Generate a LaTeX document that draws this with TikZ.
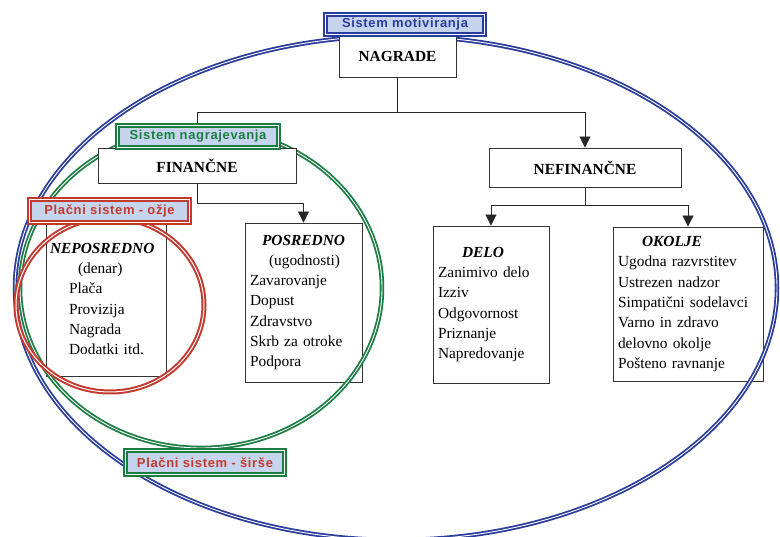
\documentclass[tikz,border=0pt]{standalone}
\usepackage{fontspec}
\setmainfont{Liberation Serif}
\newfontfamily\lblfont[LetterSpace=5]{Liberation Sans}
\usetikzlibrary{arrows.meta}
\definecolor{motblue}{HTML}{2A3C9C}
\definecolor{nagrgreen}{HTML}{1C7D43}
\definecolor{placred}{HTML}{C4392E}
\definecolor{lblfill}{HTML}{C7D4EE}
\definecolor{boxline}{HTML}{333333}

\begin{document}
\begin{tikzpicture}[x=1pt,y=-1pt,>={Triangle[width=11pt,length=11pt]},
  box/.style={draw=boxline,line width=0.9pt,align=left,inner xsep=5pt,inner ysep=0pt,font=\fontsize{15.4}{20.3}\selectfont},
  head/.style={draw=boxline,fill=white,line width=0.9pt,font=\bfseries\fontsize{15.4}{18}\selectfont},
  ring/.style={double=white,line width=1.8pt,double distance=0.9pt},
  lbl/.style={double=white,line width=2.1pt,double distance=0.9pt,fill=lblfill,inner sep=0pt,font=\lblfont\bfseries\fontsize{13}{14}\selectfont},
  conn/.style={draw=black!85,line width=0.9pt}]
  \useasboundingbox (0,0) rectangle (780,537);
  % content boxes
  \node[box,text width=112pt,minimum height=154pt,inner xsep=4pt] (nep) at (106,299) {\textbf{\textit{NEPOSREDNO}}\\ \hspace*{28pt}(denar)\\ \hspace*{19pt}Plača\\ \hspace*{19pt}Provizija\\ \hspace*{19pt}Nagrada\\ \hspace*{19pt}Dodatki itd.};
  \node[box,text width=107pt,minimum height=159pt] (pos) at (303.5,302.5) {\hspace*{12pt}\textbf{\textit{POSREDNO}}\\ \hspace*{19pt}(ugodnosti)\\ Zavarovanje\\ Dopust\\ Zdravstvo\\ Skrb za otroke\\ Podpora};
  \node[box,text width=106pt,minimum height=157pt] (delo) at (491,304.5) {\hspace*{24pt}\textbf{\textit{DELO}}\\ Zanimivo delo\\ Izziv\\ Odgovornost\\ Priznanje\\ Napredovanje};
  \node[box,text width=140pt,minimum height=154pt] (oko) at (688,304) {\hspace*{24pt}\textbf{\textit{OKOLJE}}\\ Ugodna razvrstitev\\ Ustrezen nadzor\\ Simpatični sodelavci\\ Varno in zdravo\\ delovno okolje\\ Pošteno ravnanje};
  % systems
  \draw[ring,draw=motblue] (396,288) ellipse [x radius=381,y radius=252];
  \draw[ring,draw=nagrgreen] (201,288) ellipse [x radius=181,y radius=160];
  \draw[ring,draw=placred,line width=2pt,double distance=1pt] (110,305) ellipse [x radius=94,y radius=87];
  % headings
  \node[head,minimum width=117pt,minimum height=41pt] (nagr) at (397.5,56.5) {NAGRADE};
  \node[head,minimum width=198pt,minimum height=35pt] (fin) at (197,165.5) {FINANČNE};
  \node[head,minimum width=192pt,minimum height=39pt] (nefin) at (585,167.5) {NEFINANČNE};
  \draw[conn] (nagr.south) -- ++(0,35) -| (fin.north);
  \draw[conn,->] (nagr.south) -- ++(0,35) -| (nefin.north);
  \draw[conn,->] (fin.south) -- ++(0,20) -| (pos.north);
  \draw[conn,->] (nefin.south) -- ++(0,18) -| (delo.north);
  \draw[conn,->] (nefin.south) -- ++(0,18) -| (oko.north);
  % labels
  \node[lbl,draw=motblue,text=motblue,minimum width=158.9pt,minimum height=19.9pt] (lmot) at (405,24.5) {Sistem motiviranja};
  \node[lbl,draw=nagrgreen,text=nagrgreen,minimum width=160.9pt,minimum height=21.9pt] (lnag) at (198,136.5) {Sistem nagrajevanja};
  \node[lbl,draw=placred,text=placred,minimum width=159.9pt,minimum height=22.9pt] (lozje) at (109.5,211) {Plačni sistem - ožje};
  \node[lbl,draw=nagrgreen,text=placred,minimum width=158.9pt,minimum height=23.9pt] (lsirse) at (205,462.5) {Plačni sistem - širše};
\end{tikzpicture}
\end{document}
